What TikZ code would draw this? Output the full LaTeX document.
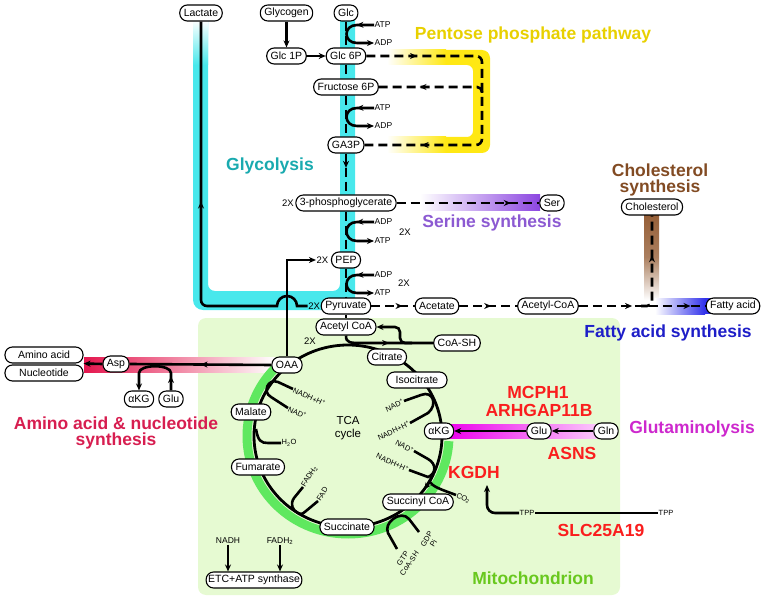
\documentclass[tikz,border=0pt]{standalone}
\usepackage{fontspec}
\setmainfont{Liberation Sans}
\usetikzlibrary{arrows.meta,decorations.markings,positioning}
\definecolor{mitofill}{RGB}{230,250,210}
\definecolor{cyanband}{RGB}{72,232,236}
\definecolor{glycotext}{RGB}{25,170,175}
\definecolor{pppyellow}{RGB}{255,232,20}
\definecolor{pentosetext}{RGB}{232,208,0}
\definecolor{serband}{RGB}{140,70,225}
\definecolor{sertext}{RGB}{140,90,210}
\definecolor{cholband}{RGB}{150,95,55}
\definecolor{choltext}{RGB}{130,75,35}
\definecolor{faband}{RGB}{50,50,235}
\definecolor{fatext}{RGB}{30,30,200}
\definecolor{aaband}{RGB}{228,22,78}
\definecolor{aatext}{RGB}{215,30,80}
\definecolor{glnband}{RGB}{236,0,236}
\definecolor{glntext}{RGB}{205,40,205}
\definecolor{mitotext}{RGB}{105,200,30}
\definecolor{tcagreen}{RGB}{95,232,95}
\definecolor{genered}{RGB}{250,30,30}
\begin{document}
\begin{tikzpicture}
        [
          x=1pt, y=-1pt,
          >={Stealth[length=7pt,width=6pt]},
          met/.style={draw, rectangle, rounded corners=7.5pt, fill=white, line width=1.1pt,
            inner xsep=4pt, inner ysep=1pt, minimum height=16pt, font=\fontsize{10.5}{12}\selectfont},
          atpfont/.style={font=\fontsize{8.5}{9}\selectfont, inner sep=0.5pt},
          cof/.style={font=\fontsize{7.5}{8}\selectfont, inner sep=0.5pt},
          twox/.style={font=\fontsize{9.5}{10}\selectfont, inner sep=0.5pt},
          pathlabel/.style={font=\fontsize{17.5}{16}\selectfont\bfseries, align=center},
          gene/.style={pathlabel, text=genered},
          flow/.style={line width=2.6pt},
          dashflow/.style={line width=2.6pt, dash pattern=on 9pt off 5pt},
          flowtip/.style={postaction={decorate, solid,
              decoration={markings, mark=at position #1 with {\arrow{>}}}}}
        ]
        \useasboundingbox (0,0) rectangle (764,599);
        % mitochondrion
        \fill[mitofill, rounded corners=8] (198,318) rectangle (620,595);
        % glycolysis band
        \fill[cyanband] (193,20) -- (193,300) arc[start angle=180, end angle=90, radius=10]
          -- (345,310) arc[start angle=90, end angle=0, radius=10] -- (355,20) -- (340,20)
          -- (340,284) arc[start angle=0, end angle=90, radius=7]
          -- (215,291) arc[start angle=90, end angle=180, radius=7] -- (208,20) -- cycle;
        \shade[top color=white, bottom color=cyanband] (193,20) rectangle (208,65);
        % pentose phosphate band
        \fill[pppyellow] (440,50) -- (482,50) arc[start angle=-90, end angle=0, radius=8]
          -- (490,145) arc[start angle=0, end angle=90, radius=8] -- (440,153) -- (440,137)
          -- (467,137) arc[start angle=90, end angle=0, radius=6]
          -- (473,71) arc[start angle=0, end angle=-90, radius=6] -- (440,65) -- cycle;
        \shade[left color=white, right color=pppyellow] (387,50) rectangle (446,65);
        \shade[left color=white, right color=pppyellow] (387,137) rectangle (446,153);
        % other bands
        \shade[left color=white, right color=serband] (420,195) rectangle (540,211);
        \shade[top color=cholband, bottom color=white, middle color=cholband!80] (644,214) rectangle (659,300);
        \shade[left color=white, right color=faband] (655,298) rectangle (705,314);
        \fill[faband] (705,298) rectangle (756,314);
        \shade[left color=aaband, right color=white] (84,357) rectangle (275,372);
        \shade[left color=glnband, right color=glnband!20] (447,424) rectangle (600,438);
        % TCA cycle
        \draw[tcagreen, line width=9pt] ([shift={(230:101 and 98)}]348,436)
          arc[start angle=230, end angle=3, x radius=101, y radius=98];
        \draw[flow, line width=2.8pt] (348,436) ellipse [x radius=94, y radius=91];

        % glycolysis
        \node[met] (lac) at (201,13) {Lactate};
        \node[met] (glyg) at (286.5,13) {Glycogen};
        \node[met] (glc) at (346,13) {Glc};
        \node[met] (g1p) at (286.5,56) {Glc 1P};
        \node[met] (g6p) at (346,56) {Glc 6P};
        \node[met] (f6p) at (346,87) {Fructose 6P};
        \node[met] (ga3p) at (346,145) {GA3P};
        \node[met] (pg3) at (346,203) {3-phosphoglycerate};
        \node[met] (pep) at (346,260) {PEP};
        \node[met] (pyr) at (346,306) {Pyruvate};
        \node[twox, left=1pt of pg3] (pg3x) {2X};
        \node[twox, left=2pt of pep] (pepx) {2X};
        \node[twox, left=0pt of pyr] (pyrx) {2X};
        \node[met] (ser) at (552,203) {Ser};
        \node[met] (acet) at (437,306) {Acetate};
        \node[met] (acoa) at (548,306) {Acetyl-CoA};
        \node[met] (fa) at (733,306) {Fatty acid};
        \node[met] (chol) at (652,207) {Cholesterol};
        % mitochondrion
        \node[met] (macoa) at (346,327) {Acetyl CoA};
        \node[met] (coash) at (457,343) {CoA-SH};
        \node[met] (cit) at (387,357) {Citrate};
        \node[met, minimum width=60pt] (isocit) at (417,380) {Isocitrate};
        \node[met] (akg) at (439,431) {αKG};
        \node[met] (succoa) at (418,502) {Succinyl CoA};
        \node[met] (succ) at (347,527) {Succinate};
        \node[met] (fum) at (258,467) {Fumarate};
        \node[met] (mal) at (251,412) {Malate};
        \node[met] (oaa) at (287,365) {OAA};
        \node[met] (glu) at (539,431) {Glu};
        \node[met] (gln) at (606,431) {Gln};
        \node[met, inner xsep=2pt] (etc) at (254,580) {ETC+ATP synthase};
        \node[font=\fontsize{11.5}{12.5}\selectfont, align=center] (tca) at (348,428) {TCA\\cycle};
        % amino acid side
        \node[met] (asp) at (116,364) {Asp};
        \node[met, minimum width=78pt] (aa) at (44,355) {Amino acid};
        \node[met, minimum width=78pt] (nuc) at (44,373) {Nucleotide};
        \node[met] (akga) at (139,399) {αKG};
        \node[met] (glua) at (171,399) {Glu};

        % glycolysis edges
        \draw[dashflow] (glc.south) -- (g6p.north);
        \draw[dashflow] (g6p.south) -- (f6p.north);
        \draw[dashflow] (f6p.south) -- (ga3p.north);
        \draw[dashflow, flowtip=0.35] (ga3p.south) -- (pg3.north);
        \draw[dashflow] (pg3.south) -- (pep.north);
        \draw[dashflow] (pep.south) -- (pyr.north);
        \draw[dashflow] (pyr.south) -- (macoa.north);
        \draw[flow, ->] (glyg.south) -- (g1p.north);
        \draw[flow, ->] (g1p.east) -- (g6p.west);
        \foreach \ya/\yb/\ta/\tb in {25/43/ATP/ADP, 108/126/ATP/ADP, 222/241/ADP/ATP, 275/293/ADP/ATP} {
            \node[atpfont, anchor=west] (in\ya) at (374,\ya) {\ta};
            \node[atpfont, anchor=west] (out\ya) at (374,\yb) {\tb};
            \draw[flow, flowtip=0.27, ->] (in\ya.west) -- (357,\ya)
              .. controls (343,\ya) and (343,\yb) .. (357,\yb) -- (out\ya.west);
        }
        \node[twox] (atpx1) at (405,232) {2X};
        \node[twox] (atpx2) at (404,283) {2X};
        \draw[flow, flowtip=0.55] (pyrx.west) -- (297,306) arc[start angle=0, end angle=-180, radius=10]
          [rounded corners=6] -- (201,306) -- (lac.south);
        \draw[flow, ->] (oaa.north) |- (pepx.west);
        % side pathways
        \draw[dashflow, rounded corners=6, flowtip=0.16, flowtip=0.82] (g6p.east) -| (482,145) -- (ga3p.east);
        \draw[dashflow, rounded corners=5, flowtip=0.62] (482,93) |- (f6p.east);
        \draw[dashflow, flowtip=0.8] (pg3.east) -- (ser.west);
        \draw[dashflow, flowtip=0.72] (pyr.east) -- (acet.west);
        \draw[dashflow, flowtip=0.55] (acet.east) -- (acoa.west);
        \draw[dashflow, flowtip=0.42, flowtip=0.88] (acoa.east) -- (fa.west);
        \draw[dashflow, rounded corners=5, flowtip=0.6] (641,306) -| (chol.south);

        % TCA edges
        \draw[flow, flowtip=0.52] (macoa.south) .. controls (346,343) and (350,343) .. (362,343) -- (coash.west);
        \draw[flow, ->, rounded corners=5] (412,343) -| (400,327) -- (macoa.east);
        \node[twox] (tcax) at (310,341) {2X};
        \draw[flow, line width=2.8pt, ->] ([shift={(25:94 and 91)}]348,436)
          arc[start angle=25, end angle=36, x radius=94, y radius=91];
        % OAA -> malate
        \node[cof, anchor=west, rotate=-25] (nadh1) at (293,389) {NADH+H\textsuperscript{+}};
        \node[cof, anchor=west, rotate=-25] (nad1) at (288,408) {NAD\textsuperscript{+}};
        \draw[flow] (nadh1.west) -- (278,382) .. controls (268,378) and (262,392) .. (271,397) -- (nad1.west);
        % malate -> fumarate
        \node[cof, anchor=west] (water) at (281,443) {H\textsubscript{2}O};
        \draw[flow] (256,429) .. controls (258,441) and (261,443) .. (268,443) -- (water.west);
        % fumarate -> succinate
        \node[cof, anchor=west, rotate=58] (fadh) at (303,487) {FADH\textsubscript{2}};
        \node[cof, anchor=west, rotate=58] (fad) at (318,501) {FAD};
        \draw[flow] (fadh.west) -- (294,498) .. controls (290,504) and (292,510) .. (298,513)
          .. controls (302,515) and (304,513) .. (306,511) -- (fad.west);
        % succinyl CoA -> succinate
        \node[cof, rotate=58, align=center] (gdp) at (430,541) {GDP\\Pi};
        \node[cof, rotate=55, align=center] (gtp) at (406,561) {GTP\\CoA-SH};
        \draw[flow] (419,532) -- (409,519) .. controls (405,514) and (398,515) .. (393,519)
          .. controls (388,523) and (386,528) .. (388,533) -- (397,549);
        % isocitrate -> aKG
        \node[cof, anchor=east, rotate=25] (nad2) at (404,401) {NAD\textsuperscript{+}};
        \node[cof, anchor=east, rotate=25] (nadh2) at (410,423) {NADH+H\textsuperscript{+}};
        \draw[flow] (nad2.east) -- (421,395) .. controls (433,390) and (438,405) .. (428,413) -- (nadh2.east);
        % aKG -> succinyl CoA
        \node[cof, anchor=east, rotate=-28] (nad3) at (414,451) {NAD\textsuperscript{+}};
        \node[cof, anchor=east, rotate=-25] (nadh3) at (409,470) {NADH+H\textsuperscript{+}};
        \draw[flow] (nad3.east) -- (428,459) .. controls (437,464) and (436,474) .. (428,477) -- (nadh3.east);
        \node[cof, anchor=west, rotate=-25] (co2) at (456,495) {CO\textsubscript{2}};
        \draw[flow] (429,481) .. controls (433,487) and (440,489) .. (co2.west);
        % ETC
        \node[atpfont] (nadhe) at (228,541) {NADH};
        \node[atpfont] (fadhe) at (280,541) {FADH\textsubscript{2}};
        \draw[flow, ->] (nadhe.south) -- (nadhe.south |- etc.north);
        \draw[flow, ->] (fadhe.south) -- (fadhe.south |- etc.north);
        % glutaminolysis
        \draw[flow, ->] (gln.west) -- (glu.east);
        \draw[flow, ->] (glu.west) -- (akg.east);
        % amino acid & nucleotide
        \draw[flow, flowtip=0.5] (oaa.west) -- (asp.east);
        \draw[flow, ->] (asp.west) -- (aa.south east);
        \draw[flow, ->, flowtip=0.2] (glua.north) -- (171,373) .. controls (171,364) and (139,364) .. (139,373) -- (akga.north);
        % KGDH
        \node[gene] (kgdh) at (474,472) {KGDH};
        \node[cof] (tppl) at (527,513) {TPP};
        \node[cof] (tppr) at (666,513) {TPP};
        \coordinate (kgdhin) at (487,485);
        \draw[flow] (tppr.west) -- (tppl.east);
        \draw[flow, ->, rounded corners=8] (tppl.west) -| (kgdhin);

        % labels
        \node[pathlabel, text=pentosetext] (lblppp) at (533,35) {Pentose phosphate pathway};
        \node[pathlabel, text=glycotext] (lblglyco) at (270,166) {Glycolysis};
        \node[pathlabel, text=sertext] (lblser) at (492,223) {Serine synthesis};
        \node[pathlabel, text=choltext] (lblchol) at (660,180) {Cholesterol\\synthesis};
        \node[pathlabel, text=fatext] (lblfa) at (668,333) {Fatty acid synthesis};
        \node[pathlabel, text=aatext] (lblaa) at (116,433) {Amino acid \& nucleotide\\synthesis};
        \node[pathlabel, text=glntext] (lblgln) at (692,429) {Glutaminolysis};
        \node[pathlabel, text=mitotext] (lblmito) at (533,578) {Mitochondrion};
        \node[gene] (mcph) at (538,392) {MCPH1};
        \node[gene] (arhgap) at (539,410) {ARHGAP11B};
        \node[gene] (asns) at (572,453) {ASNS};
        \node[gene] (slc) at (601,530) {SLC25A19};
      \end{tikzpicture}
\end{document}
